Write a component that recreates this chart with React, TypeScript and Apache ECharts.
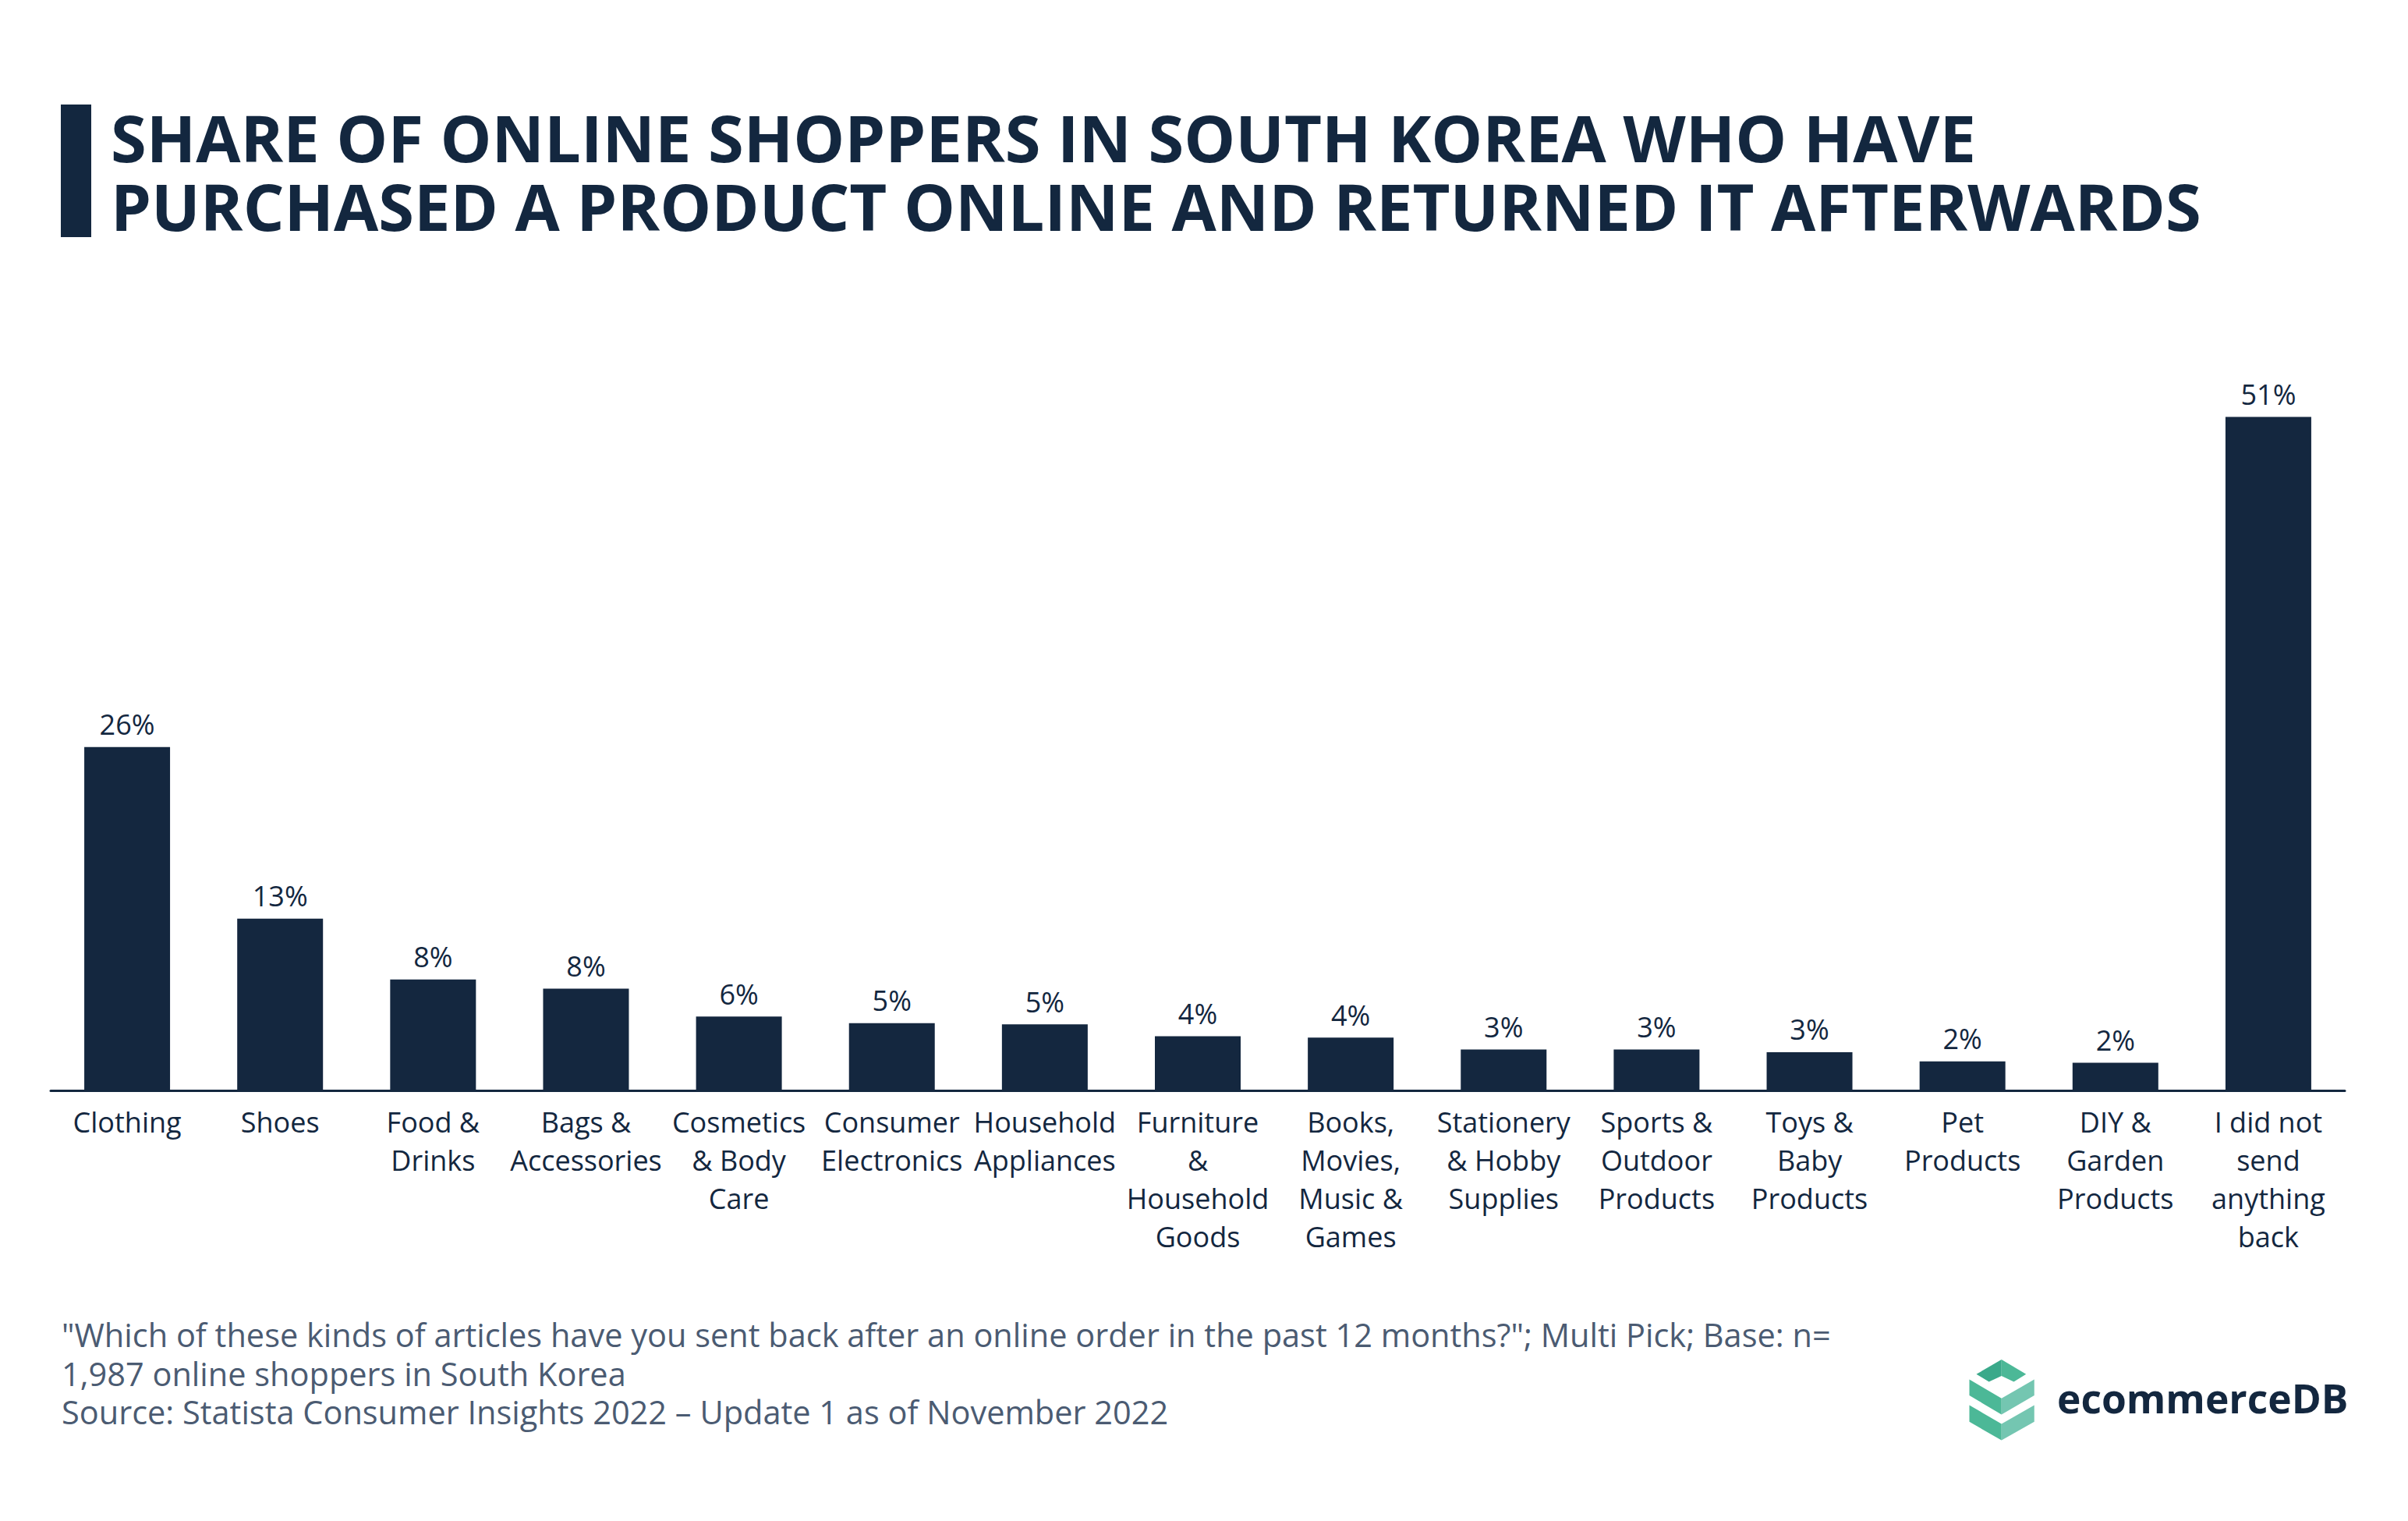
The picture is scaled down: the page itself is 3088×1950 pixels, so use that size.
import React, { useEffect, useRef } from "react";
import * as echarts from "echarts";

const categories: string[] = [
  "Clothing",
  "Shoes",
  "Food &\nDrinks",
  "Bags &\nAccessories",
  "Cosmetics\n& Body\nCare",
  "Consumer\nElectronics",
  "Household\nAppliances",
  "Furniture\n&\nHousehold\nGoods",
  "Books,\nMovies,\nMusic &\nGames",
  "Stationery\n& Hobby\nSupplies",
  "Sports &\nOutdoor\nProducts",
  "Toys &\nBaby\nProducts",
  "Pet\nProducts",
  "DIY &\nGarden\nProducts",
  "I did not\nsend\nanything\nback",
];

const shares: number[] = [26, 13, 8.4, 7.7, 5.6, 5.1, 5.0, 4.1, 4.0, 3.1, 3.1, 2.9, 2.2, 2.1, 51];

const titleLines: string[] = [
  "SHARE OF ONLINE SHOPPERS IN SOUTH KOREA WHO HAVE",
  "PURCHASED A PRODUCT ONLINE AND RETURNED IT AFTERWARDS",
];

const footerLines: string[] = [
  "\"Which of these kinds of articles have you sent back after an online order in the past 12 months?\"; Multi Pick; Base: n=",
  "1,987 online shoppers in South Korea",
  "Source: Statista Consumer Insights 2022 \u2013 Update 1 as of November 2022",
];

const NAVY = "#13273f";
const FONT = "'Open Sans', 'Noto Sans', sans-serif";

export default function App() {
  const ref = useRef<HTMLDivElement>(null);
  useEffect(() => {
    document.body.style.margin = "0";
    if (!ref.current) return;
    const chart = echarts.init(ref.current, null, { renderer: "svg" });

    const zx = (v: number) => 2500 + v / 2.667;
    const zy = (v: number) => 1716 + v / 2.667;
    const pts = (arr: number[][]) => arr.map(([a, b]) => [zx(a), zy(b)]);

    chart.setOption({
      animation: false,
      backgroundColor: "#ffffff",
      textStyle: { fontFamily: FONT },
      grid: { left: 65, right: 81, top: 382, bottom: 552, containLabel: false },
      xAxis: {
        type: "category",
        data: categories,
        axisLine: { show: true, lineStyle: { color: NAVY, width: 3 } },
        axisTick: { show: false },
        axisLabel: {
          interval: 0,
          color: NAVY,
          fontSize: 36,
          lineHeight: 49,
          margin: 16,
          fontFamily: FONT,
          align: "center",
        },
      },
      yAxis: {
        type: "value",
        min: 0,
        max: 60,
        show: false,
        splitLine: { show: false },
      },
      series: [
        {
          type: "bar",
          data: shares,
          barWidth: 110,
          itemStyle: { color: "#14273f" },
          label: {
            show: true,
            position: "top",
            distance: 11,
            color: NAVY,
            fontSize: 36,
            fontFamily: FONT,
            formatter: (p: any) => Math.round(p.value) + "%",
          },
        },
      ],
      graphic: [
        {
          type: "rect",
          shape: { x: 78, y: 134, width: 39, height: 170 },
          style: { fill: NAVY },
        },
        {
          type: "text",
          x: 142,
          y: 219,
          style: {
            text: titleLines.join("\n"),
            fill: NAVY,
            font: `bold 83px ${FONT}`,
            lineHeight: 88,
            verticalAlign: "middle",
          },
        },
        {
          type: "text",
          x: 79,
          y: 1760.5,
          style: {
            text: footerLines.join("\n"),
            fill: "#4b5b72",
            font: `41.5px ${FONT}`,
            lineHeight: 49.5,
            verticalAlign: "middle",
          },
        },
        {
          type: "polygon",
          shape: { points: pts([[92, 122], [178, 72], [178, 128], [135, 148]]) },
          style: { fill: "#3aa98a" },
        },
        {
          type: "polygon",
          shape: { points: pts([[178, 72], [262, 122], [220, 148], [178, 128]]) },
          style: { fill: "#4cb897" },
        },
        {
          type: "polygon",
          shape: { points: pts([[68, 140], [178, 205], [178, 260], [68, 195]]) },
          style: { fill: "#4cb897" },
        },
        {
          type: "polygon",
          shape: { points: pts([[178, 205], [290, 140], [290, 195], [178, 260]]) },
          style: { fill: "#74c6b1" },
        },
        {
          type: "polygon",
          shape: { points: pts([[68, 228], [178, 292], [178, 348], [68, 285]]) },
          style: { fill: "#4cb897" },
        },
        {
          type: "polygon",
          shape: { points: pts([[178, 292], [290, 228], [290, 285], [178, 348]]) },
          style: { fill: "#74c6b1" },
        },
        {
          type: "text",
          x: 2638,
          y: 1792,
          style: {
            text: "ecommerceDB",
            fill: NAVY,
            font: `bold 51.5px ${FONT}`,
            verticalAlign: "middle",
          },
        },
      ],
    });
    return () => chart.dispose();
  }, []);
  return <div ref={ref} style={{ width: 3088, height: 1950 }} />;
}
